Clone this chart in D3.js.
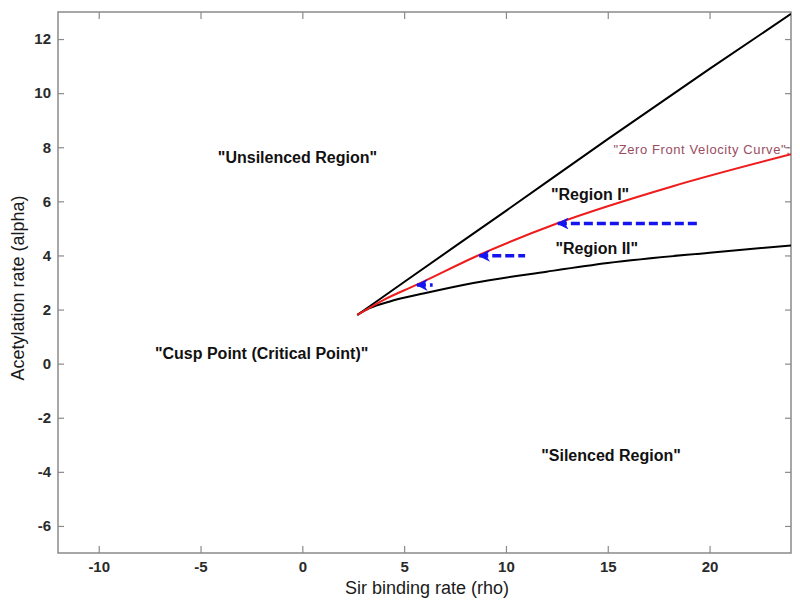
<!DOCTYPE html>
<html>
<head>
<meta charset="utf-8">
<script src="https://cdn.jsdelivr.net/npm/d3@7"></script>
<style>
  body { margin: 0; background: #fff; }
  svg { display: block; font-family: "Liberation Sans", Arial, Helvetica, sans-serif; }
</style>
</head>
<body>
<div id="wrapper"></div>
<script>
// curves (rho, alpha)
var upperRho = [2.7, 5, 10, 15, 20, 24]
var upperAlpha = [1.8, 3.02, 5.65, 8.3, 10.9, 12.93]

var lowerRho = [2.7, 3.3, 4.3, 6, 8.4, 12, 15, 20, 24]
var lowerAlpha = [1.8, 2.05, 2.3, 2.6, 2.98, 3.4, 3.72, 4.1, 4.37]

var zeroRho = [2.7, 4, 5.6, 8.6, 12.5, 18.2, 24]
var zeroAlpha = [1.8, 2.36, 2.91, 3.99, 5.18, 6.56, 7.74]

// blue dashed arrows: tail -> tip at a fixed alpha
var arrowAlpha = [5.18, 3.99, 2.91]
var arrowTip = [12.5, 8.64, 5.58]
var arrowTail = [19.45, 10.94, 6.4]

var xTicks = [-10, -5, 0, 5, 10, 15, 20]
var yTicks = [-6, -4, -2, 0, 2, 4, 6, 8, 10, 12]

var regionLabels = ['"Unsilenced Region"', '"Cusp Point (Critical Point)"', '"Region I"', '"Region II"', '"Silenced Region"']
var regionRho = [-0.24, -2.0, 14.13, 14.46, 15.16]
var regionAlpha = [7.63, 0.38, 6.25, 4.24, -3.4]

let dimensions = {
    width: 800,
    height: 607,
    margin: { top: 12, right: 9, bottom: 54, left: 58 }
}

let svg = d3.select("#wrapper")
    .append("svg")
    .attr("width", dimensions.width)
    .attr("height", dimensions.height)

let x = d3.scaleLinear()
    .domain([-12, 24])
    .range([dimensions.margin.left, dimensions.width - dimensions.margin.right])

let y = d3.scaleLinear()
    .domain([-7, 13])
    .range([dimensions.height - dimensions.margin.bottom, dimensions.margin.top])

// clip for the curves
svg.append("clipPath").attr("id", "plot-clip")
    .append("rect")
    .attr("x", x(-12)).attr("y", y(13))
    .attr("width", x(24) - x(-12)).attr("height", y(-7) - y(13))

// axes with inward ticks, on all four sides
function styleAxis(g) {
    g.select(".domain").remove()
    g.selectAll(".tick line").attr("stroke", "#8a8a8a").attr("stroke-width", 1.2)
    g.selectAll(".tick text")
        .attr("fill", "#2a2a2a")
        .attr("font-size", "15px")
        .attr("font-weight", "bold")
}

svg.append("g")
    .attr("transform", `translate(0,${y(-7)})`)
    .call(d3.axisBottom(x).tickValues(xTicks).tickSize(-7).tickPadding(8).tickFormat(d => String(d)))
    .call(styleAxis)

svg.append("g")
    .attr("transform", `translate(0,${y(13)})`)
    .call(d3.axisTop(x).tickValues(xTicks).tickSize(-7).tickFormat(""))
    .call(styleAxis)

svg.append("g")
    .attr("transform", `translate(${x(-12)},0)`)
    .call(d3.axisLeft(y).tickValues(yTicks).tickSize(-6).tickPadding(7).tickFormat(d => String(d)))
    .call(styleAxis)

svg.append("g")
    .attr("transform", `translate(${x(24)},0)`)
    .call(d3.axisRight(y).tickValues(yTicks).tickSize(-6).tickFormat(""))
    .call(styleAxis)

// frame
svg.append("rect")
    .attr("x", x(-12)).attr("y", y(13))
    .attr("width", x(24) - x(-12)).attr("height", y(-7) - y(13))
    .attr("fill", "none")
    .attr("stroke", "#8a8a8a")
    .attr("stroke-width", 1.5)

// axis titles
svg.append("text")
    .attr("x", 427).attr("y", 594)
    .attr("text-anchor", "middle")
    .attr("font-size", "18px")
    .attr("fill", "#1a1a1a")
    .text("Sir binding rate (rho)")

svg.append("text")
    .attr("transform", "translate(24,288) rotate(-90)")
    .attr("text-anchor", "middle")
    .attr("font-size", "18px")
    .attr("fill", "#1a1a1a")
    .text("Acetylation rate (alpha)")

let line = d3.line()
    .x(d => x(d[0]))
    .y(d => y(d[1]))
    .curve(d3.curveMonotoneX)

let curves = svg.append("g").attr("clip-path", "url(#plot-clip)")

curves.append("path")
    .datum(d3.zip(upperRho, upperAlpha))
    .attr("d", line)
    .attr("fill", "none")
    .attr("stroke", "#000")
    .attr("stroke-width", 2)

curves.append("path")
    .datum(d3.zip(lowerRho, lowerAlpha))
    .attr("d", line)
    .attr("fill", "none")
    .attr("stroke", "#000")
    .attr("stroke-width", 2)

curves.append("path")
    .datum(d3.zip(zeroRho, zeroAlpha))
    .attr("d", line)
    .attr("fill", "none")
    .attr("stroke", "#ee1c1c")
    .attr("stroke-width", 2)

// arrows
svg.append("defs").append("marker")
    .attr("id", "arrowhead")
    .attr("viewBox", "0 0 10 10")
    .attr("refX", 1).attr("refY", 5)
    .attr("markerWidth", 3.4).attr("markerHeight", 3.4)
    .attr("markerUnits", "strokeWidth")
    .attr("orient", "auto")
    .append("path")
    .attr("d", "M0,5 L10,0 L7,5 L10,10 Z")
    .attr("fill", "#1414f0")

let arrows = d3.range(arrowAlpha.length).map(i => ({ a: arrowAlpha[i], tip: arrowTip[i], tail: arrowTail[i] }))

svg.append("g")
    .selectAll("line")
    .data(arrows)
    .enter()
    .append("line")
    .attr("x1", d => x(d.tip) + 1)
    .attr("x2", d => x(d.tail))
    .attr("y1", d => y(d.a))
    .attr("y2", d => y(d.a))
    .attr("stroke", "#1414f0")
    .attr("stroke-width", 3.5)
    .attr("stroke-dasharray", "9,4")
    .attr("marker-start", "url(#arrowhead)")

// region labels
svg.append("g")
    .selectAll("text")
    .data(d3.range(regionLabels.length))
    .enter()
    .append("text")
    .attr("x", i => x(regionRho[i]))
    .attr("y", i => y(regionAlpha[i]))
    .attr("text-anchor", "middle")
    .attr("dominant-baseline", "central")
    .attr("font-size", "16px")
    .attr("font-weight", "bold")
    .attr("fill", "#111")
    .text(i => regionLabels[i])

svg.append("text")
    .attr("x", x(15.28))
    .attr("y", y(7.92))
    .attr("dominant-baseline", "central")
    .attr("font-size", "13px")
    .attr("letter-spacing", "0.6px")
    .attr("fill", "#9a4d62")
    .attr("clip-path", "url(#plot-clip)")
    .text('"Zero Front Velocity Curve":')
</script>
</body>
</html>
